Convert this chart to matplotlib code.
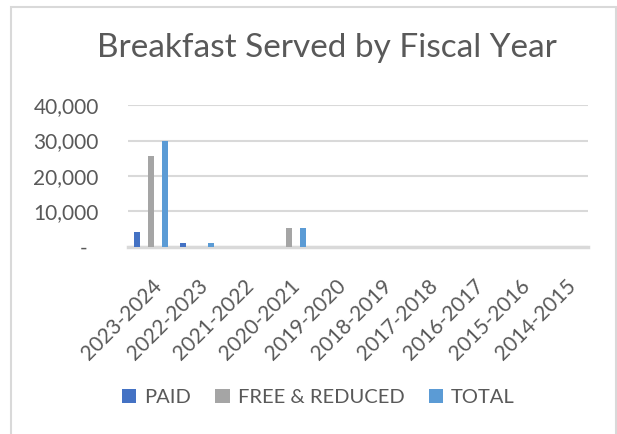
import numpy as np
import matplotlib.pyplot as plt
import matplotlib.transforms as mtransforms
from matplotlib.patches import Rectangle
from matplotlib.ticker import FuncFormatter

# desayunos servidos por año fiscal
years = ["2023-2024", "2022-2023", "2021-2022", "2020-2021", "2019-2020",
         "2018-2019", "2017-2018", "2016-2017", "2015-2016", "2014-2015"]
paid = [4300, 1100, 0, 0, 0, 0, 0, 0, 0, 0]
free_reduced = [25700, 0, 0, 5400, 0, 0, 0, 0, 0, 0]
total = [30000, 1150, 0, 5400, 0, 0, 0, 0, 0, 0]

series = [("PAID", paid, "#4472C4"),
          ("FREE & REDUCED", free_reduced, "#A5A5A5"),
          ("TOTAL", total, "#5B9BD5")]

plt.rcParams['font.family'] = ['Lato', 'DejaVu Sans']
gris_texto = "#595959"

fig = plt.figure(figsize=(6.17, 4.34), dpi=100)
ax = fig.add_axes([0.2075, 0.431, 0.7455, 0.327])

x = np.arange(len(years))
ancho = 0.125
for i, (nombre, valores, color) in enumerate(series):
    ax.bar(x + (i - 1) * 0.30, valores, ancho, color=color, label=nombre, zorder=3)

ax.set_xlim(-0.5, len(years) - 0.5)
ax.set_ylim(0, 40000)
ax.set_yticks([0, 10000, 20000, 30000, 40000])

def formato(v, pos):
    if v == 0:
        return "-  "
    return f"{int(v):,}"

ax.yaxis.set_major_formatter(FuncFormatter(formato))
ax.grid(axis='y', color="#D9D9D9", linewidth=1.5, zorder=0)
for lado in ['top', 'right', 'left']:
    ax.spines[lado].set_visible(False)
ax.spines['bottom'].set_color("#D9D9D9")
ax.spines['bottom'].set_linewidth(2.5)
ax.tick_params(axis='both', length=0, colors=gris_texto)
ax.tick_params(axis='y', pad=21, labelsize=15)

ax.set_xticks(x)
ax.set_xticklabels(years, rotation=45, ha='right', rotation_mode='anchor', fontsize=15)
ax.tick_params(axis='x', pad=20.5)
# pequeño corrimiento a la derecha de las etiquetas del eje x
corrimiento = mtransforms.ScaledTranslation(1 / 100, 0, fig.dpi_scale_trans)
for etiqueta in ax.get_xticklabels():
    etiqueta.set_transform(etiqueta.get_transform() + corrimiento)

fig.text(0.53, 0.89, "Breakfast Served by Fiscal Year", ha='center', va='center',
         fontsize=24, color=gris_texto)

leg = fig.legend(loc='center', bbox_to_anchor=(0.516, 0.085), ncol=3, frameon=False,
                 fontsize=14.5, handlelength=0.7, handleheight=0.7, handletextpad=0.4,
                 columnspacing=1.2, labelcolor=gris_texto)

# borde del área del gráfico
fig.patches.append(Rectangle((11 / 617, -0.1), 605 / 617, 1 - 7 / 434 + 0.1,
                             transform=fig.transFigure, fill=False,
                             edgecolor="#D9D9D9", linewidth=1.5))

fig.savefig("out.png", dpi=100)
